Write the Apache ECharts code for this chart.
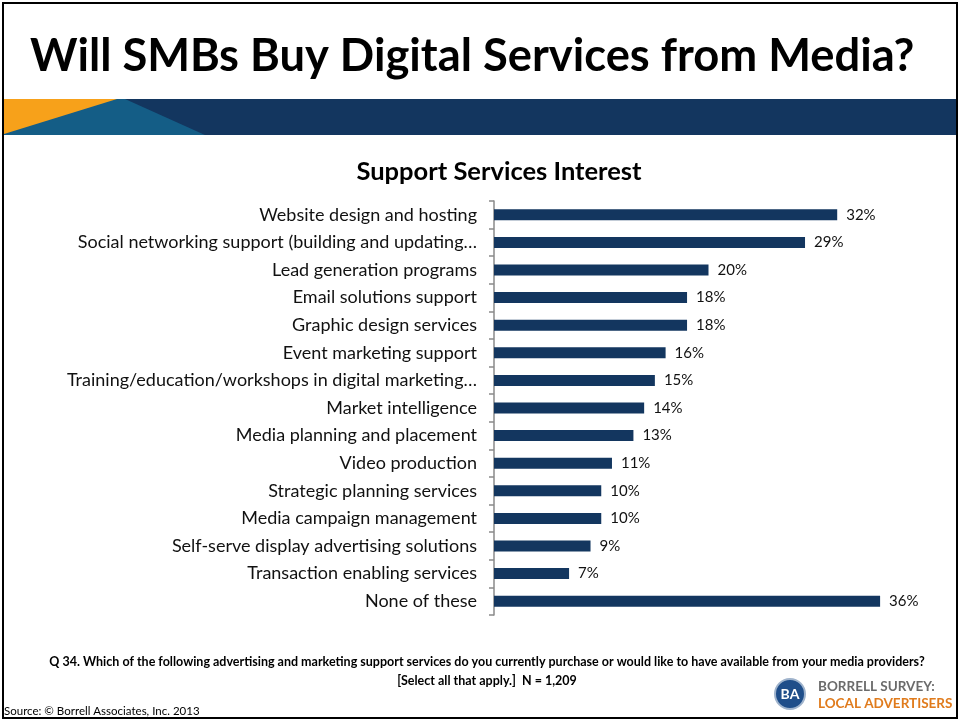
<!DOCTYPE html>
<html>
<head>
<meta charset="utf-8">
<script src="https://cdn.jsdelivr.net/npm/echarts@6/dist/echarts.min.js"></script>
<style>
  html, body { margin: 0; padding: 0; background: #fff; }
  #chart { width: 960px; height: 721px; }
</style>
</head>
<body>
<div id="chart"></div>
<script>
// survey answers, top to bottom as in the slide
var categories = [
  "Website design and hosting",
  "Social networking support (building and updating…",
  "Lead generation programs",
  "Email solutions support",
  "Graphic design services",
  "Event marketing support",
  "Training/education/workshops in digital marketing…",
  "Market intelligence",
  "Media planning and placement",
  "Video production",
  "Strategic planning services",
  "Media campaign management",
  "Self-serve display advertising solutions",
  "Transaction enabling services",
  "None of these"
];
var shares = [32, 29, 20, 18, 18, 16, 15, 14, 13, 11, 10, 10, 9, 7, 36];

var navy = "#13365f";
var font = "Lato";

var chart = echarts.init(document.getElementById("chart"));

var option = {
  animation: false,
  textStyle: { fontFamily: font },
  title: {
    text: "Support Services Interest",
    left: 494,
    top: 154,
    textAlign: "center",
    textStyle: { fontFamily: font, fontSize: 25.5, fontWeight: "bold", color: "#000" }
  },
  grid: { left: 494, right: 37, top: 201, bottom: 106, containLabel: false },
  xAxis: {
    type: "value",
    min: 0,
    max: 40,
    show: false
  },
  yAxis: {
    type: "category",
    data: categories,
    inverse: true,
    axisLine: { show: true, lineStyle: { color: "#8a8a8a", width: 1.5 } },
    axisTick: { show: true, length: 5, lineStyle: { color: "#8a8a8a", width: 1.5 } },
    axisLabel: { fontFamily: font, fontSize: 18, color: "#111", margin: 17 }
  },
  series: [{
    type: "bar",
    data: shares,
    barWidth: 11,
    itemStyle: { color: navy },
    label: {
      show: true,
      position: "right",
      distance: 9,
      fontFamily: font,
      fontSize: 15,
      color: "#111",
      formatter: function (p) { return p.value + "%"; }
    }
  }],
  graphic: [
    // slide frame
    { type: "rect", shape: { x: 3, y: 3, width: 954, height: 715 },
      style: { fill: "none", stroke: "#000", lineWidth: 2 }, silent: true },
    // headline
    { type: "text", left: 30, top: 34,
      style: { text: "Will SMBs Buy Digital Services from Media?", fontFamily: font,
               fontSize: 45.3, fontWeight: "bold", fill: "#000" } },
    // banner
    { type: "rect", shape: { x: 4, y: 99, width: 952, height: 36 }, style: { fill: navy } },
    { type: "polygon", shape: { points: [[4, 99], [125, 99], [205, 135], [4, 135]] },
      style: { fill: "#145d86" } },
    { type: "polygon", shape: { points: [[4, 99], [117, 99], [4, 134]] },
      style: { fill: "#f7a11a" } },
    // question footnote
    { type: "text", x: 487, y: 655,
      style: { text: "Q 34. Which of the following advertising and marketing support services do you currently purchase or would like to have available from your media providers?",
               fontFamily: font, fontSize: 12.5, fontWeight: "bold", fill: "#000", align: "center" } },
    { type: "text", x: 487, y: 674,
      style: { text: "[Select all that apply.]  N = 1,209",
               fontFamily: font, fontSize: 12.5, fontWeight: "bold", fill: "#000", align: "center" } },
    { type: "text", x: 4, y: 705,
      style: { text: "Source: © Borrell Associates, Inc. 2013", fontFamily: font, fontSize: 11.5, fill: "#000" } },
    // logo
    { type: "circle", shape: { cx: 790, cy: 694, r: 15 }, style: { fill: "#1f4e8a", stroke: "#9fb3cc", lineWidth: 2 } },
    { type: "text", x: 790, y: 694,
      style: { text: "BA", fontFamily: font, fontSize: 14, fontWeight: "bold", fill: "#fff", align: "center", verticalAlign: "middle" } },
    { type: "text", x: 818, y: 680,
      style: { text: "BORRELL SURVEY:", fontFamily: font, fontSize: 13.5, fontWeight: "bold", fill: "#6b6b6b" } },
    { type: "text", x: 818, y: 697,
      style: { text: "LOCAL ADVERTISERS", fontFamily: font, fontSize: 13.5, fontWeight: "bold", fill: "#e07b1c" } }
  ]
};

chart.setOption(option);
</script>
</body>
</html>
